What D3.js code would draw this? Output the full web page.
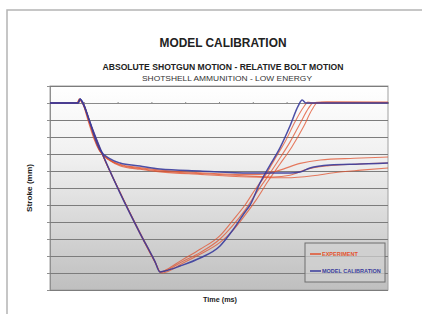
<!doctype html>
<html>
<head>
<meta charset="utf-8" />
<script src="https://d3js.org/d3.v7.min.js"></script>
<style>
  body{ margin:0; background:#fff; }
  text{ font-family: "Liberation Sans", Arial, sans-serif; }
</style>
</head>
<body>
<script>
// stroke (mm) vs time (ms)
var expShotgun1 = [[0,0],[8.0,0],[8.7,2.5],[9.6,0],[11.6,-11],[14.6,-26],[20.6,-52],[26.6,-76],[31,-93],[32.6,-99.5],[34.5,-98],[38.5,-93],[44.4,-86],[50.3,-78],[54.1,-69],[57.7,-60],[61,-50],[63.6,-43],[66.5,-33],[69.5,-23],[72.5,-11],[75,-2.5],[76.3,0.5],[78,0],[100,0.3]];
var expShotgun2 = [[0,0],[8.2,0],[8.8,2],[9.7,0],[11.8,-11.5],[14.8,-27],[20.8,-53],[26.7,-77],[31.2,-94],[32.7,-99.5],[34.5,-98.5],[38.5,-94],[44.4,-88],[50.3,-80],[54.1,-72],[57.7,-63],[61,-53],[64.5,-43],[67.5,-34],[71,-23],[74,-12],[76.5,-3],[77.8,0],[80,0.5],[100,0.5]];
var expShotgun3 = [[0,0],[8.3,0],[8.9,1.5],[9.8,0],[11.9,-12],[14.9,-27.5],[20.9,-53.5],[26.8,-77.5],[31.3,-94.5],[32.9,-100],[35,-99],[39,-94.5],[44.4,-89],[50.3,-82],[54.1,-75],[57.7,-66],[61,-57],[64.5,-46],[68,-36],[71.5,-26],[75,-14],[77.5,-4],[79,0],[82,0.5],[100,0.2]];
var expBolt1 = [[0,0],[8,0],[8.7,2],[9.6,0],[11.5,-12],[13,-21],[14.6,-28],[17.6,-33.5],[20.6,-36],[26.5,-38],[32.5,-39.5],[44.4,-41],[55,-42],[62,-42],[68,-39.5],[74,-35.5],[80,-33.5],[90,-32.5],[100,-31.8]];
var expBolt2 = [[0,0],[8.2,0],[8.8,2],[9.7,0],[11.7,-12],[13.2,-21],[14.7,-28],[17.7,-33.5],[20.7,-36.5],[26.6,-38.5],[32.5,-40],[44.4,-41.5],[59,-43],[66,-43.5],[71,-42.5],[76,-39],[82,-37],[90,-36],[100,-35.3]];
var expBolt3 = [[0,0],[8.3,0],[8.9,1.5],[9.8,0],[11.8,-12],[13.3,-21.5],[14.8,-28.5],[17.8,-34],[20.8,-37],[26.7,-39],[32.6,-40.5],[44.4,-42],[59,-43.5],[70,-44],[77.8,-42.8],[84,-41],[92,-39.5],[100,-38.2]];
var modelShotgun = [[0,0],[8.3,0],[8.9,2.4],[9.8,0],[11.8,-11.2],[14.8,-26.5],[20.7,-52.9],[26.6,-76.5],[31.1,-93.5],[32.5,-99.4],[34,-98.8],[38.5,-95.9],[44.4,-91.2],[50.3,-84.1],[54.1,-74.7],[57.7,-64.1],[59.2,-60],[62.1,-47.1],[65.1,-36.5],[68,-26.5],[71,-13.5],[73.4,-1.8],[74.6,1.8],[75.7,0],[100,0]];
var modelBolt = [[0,0],[8.3,0],[8.9,2.4],[9.8,-0.6],[11.8,-11.2],[13.3,-20.6],[14.8,-27.6],[17.8,-32.9],[20.7,-35.3],[26.6,-37.1],[32.5,-38.8],[44.4,-40],[59.2,-41.2],[71,-41.2],[74,-40.6],[76.9,-38.2],[82.8,-36.5],[91.7,-35.9],[100,-35.3]];

var legendNames = ["EXPERIMENT", "MODEL CALIBRATION"];
var expColor = "#e2522e", modelColor = "#3a3c9c";

var svg = d3.select("body").append("svg").attr("width", 422).attr("height", 314);

// outer frame
svg.append("path").attr("d", "M7,314 L7,10 L422,10")
  .attr("fill", "none").attr("stroke", "#b4b4b4").attr("stroke-width", 1.5);

var xScale = d3.scaleLinear().domain([0, 100]).range([50, 388]);
var yScale = d3.scaleLinear().domain([-110, 10]).range([290, 86]);

var defs = svg.append("defs");
var grad = defs.append("linearGradient").attr("id", "bg").attr("x1", 0).attr("y1", 0).attr("x2", 0).attr("y2", 1);
grad.append("stop").attr("offset", "0%").attr("stop-color", "#ffffff");
grad.append("stop").attr("offset", "35%").attr("stop-color", "#f0f0f0");
grad.append("stop").attr("offset", "100%").attr("stop-color", "#bfbfbf");

svg.append("rect")
  .attr("x", xScale(0)).attr("y", yScale(10))
  .attr("width", xScale(100) - xScale(0)).attr("height", yScale(-110) - yScale(10))
  .attr("fill", "url(#bg)").attr("stroke", "#a0a0a0").attr("stroke-width", 1);

// horizontal gridlines + left ticks
var yAxis = d3.axisLeft(yScale).tickValues(d3.range(-110, 11, 10))
  .tickSize(-(xScale(100) - xScale(0))).tickFormat("");
svg.append("g").attr("class", "yAxis")
  .attr("transform", `translate(${xScale(0)}, 0)`)
  .call(yAxis)
  .call(g => g.select(".domain").attr("stroke", "#909090"))
  .call(g => g.selectAll(".tick line").attr("stroke", "#7c7c7c").attr("stroke-width", 1.1));

svg.append("g")
  .attr("transform", `translate(${xScale(0)}, 0)`)
  .call(d3.axisLeft(yScale).tickValues(d3.range(-110, 11, 10)).tickSize(3).tickFormat(""))
  .call(g => g.select(".domain").remove())
  .call(g => g.selectAll(".tick line").attr("stroke", "#909090"));

// time axis sits on zero stroke
var xAxis = d3.axisBottom(xScale).tickValues(d3.range(0, 101, 10)).tickSize(2).tickSizeOuter(0).tickFormat("");
svg.append("g").attr("class", "xAxis")
  .attr("transform", `translate(0, ${yScale(0)})`)
  .call(xAxis)
  .call(g => g.select(".domain").attr("stroke", "#8a8a8a"))
  .call(g => g.selectAll(".tick line").attr("stroke", "#8a8a8a").attr("transform", "translate(0,-1)"));

var line = d3.line().x(d => xScale(d[0])).y(d => yScale(d[1])).curve(d3.curveMonotoneX);

var expSeries = [expShotgun1, expShotgun2, expShotgun3, expBolt1, expBolt2, expBolt3];
svg.append("g").selectAll("path.exp")
  .data(expSeries).enter().append("path")
  .attr("class", "exp")
  .attr("d", line)
  .attr("fill", "none").attr("stroke", expColor).attr("stroke-width", 1.1).attr("opacity", 0.75);

svg.append("g").selectAll("path.model")
  .data([modelShotgun, modelBolt]).enter().append("path")
  .attr("class", "model")
  .attr("d", line)
  .attr("fill", "none").attr("stroke", modelColor).attr("stroke-width", 1.5).attr("opacity", 0.9);

// titles
svg.append("text").attr("x", 223).attr("y", 47).attr("text-anchor", "middle")
  .attr("font-size", 12).attr("font-weight", "bold").attr("fill", "#222")
  .attr("textLength", 127).attr("lengthAdjust", "spacingAndGlyphs")
  .text("MODEL CALIBRATION");
svg.append("text").attr("x", 223).attr("y", 70).attr("text-anchor", "middle")
  .attr("font-size", 8.5).attr("font-weight", "bold").attr("fill", "#222")
  .attr("textLength", 241).attr("lengthAdjust", "spacingAndGlyphs")
  .text("ABSOLUTE SHOTGUN MOTION - RELATIVE BOLT MOTION");
svg.append("text").attr("x", 227).attr("y", 81).attr("text-anchor", "middle")
  .attr("font-size", 8).attr("fill", "#333")
  .attr("textLength", 170).attr("lengthAdjust", "spacingAndGlyphs")
  .text("SHOTSHELL AMMUNITION - LOW ENERGY");

// axis titles
svg.append("text").attr("transform", "translate(32,188) rotate(-90)")
  .attr("text-anchor", "middle").attr("font-size", 6.5).attr("font-weight", "bold").attr("fill", "#222")
  .attr("textLength", 48).attr("lengthAdjust", "spacingAndGlyphs")
  .text("Stroke (mm)");
svg.append("text").attr("x", 220).attr("y", 302).attr("text-anchor", "middle")
  .attr("font-size", 7).attr("font-weight", "bold").attr("fill", "#222")
  .attr("textLength", 34).attr("lengthAdjust", "spacingAndGlyphs")
  .text("Time (ms)");

// legend
var lg = svg.append("g").attr("transform", "translate(305,243)");
lg.append("rect").attr("width", 80).attr("height", 39)
  .attr("fill", "#d2d2d2").attr("fill-opacity", 0.7).attr("stroke", "#6e6e6e").attr("stroke-width", 1);
var items = lg.selectAll("g.item").data(legendNames).enter().append("g")
  .attr("class", "item")
  .attr("transform", (d, i) => `translate(5, ${11 + i * 17})`);
items.append("line").attr("x1", 0).attr("x2", 11).attr("y1", 0).attr("y2", 0)
  .attr("stroke", (d, i) => i ? modelColor : expColor).attr("stroke-width", 1.5);
items.append("text").attr("x", 12).attr("y", 2)
  .attr("font-size", 5.5).attr("font-weight", "bold")
  .attr("fill", (d, i) => i ? modelColor : expColor)
  .text(d => d);
</script>
</body>
</html>
